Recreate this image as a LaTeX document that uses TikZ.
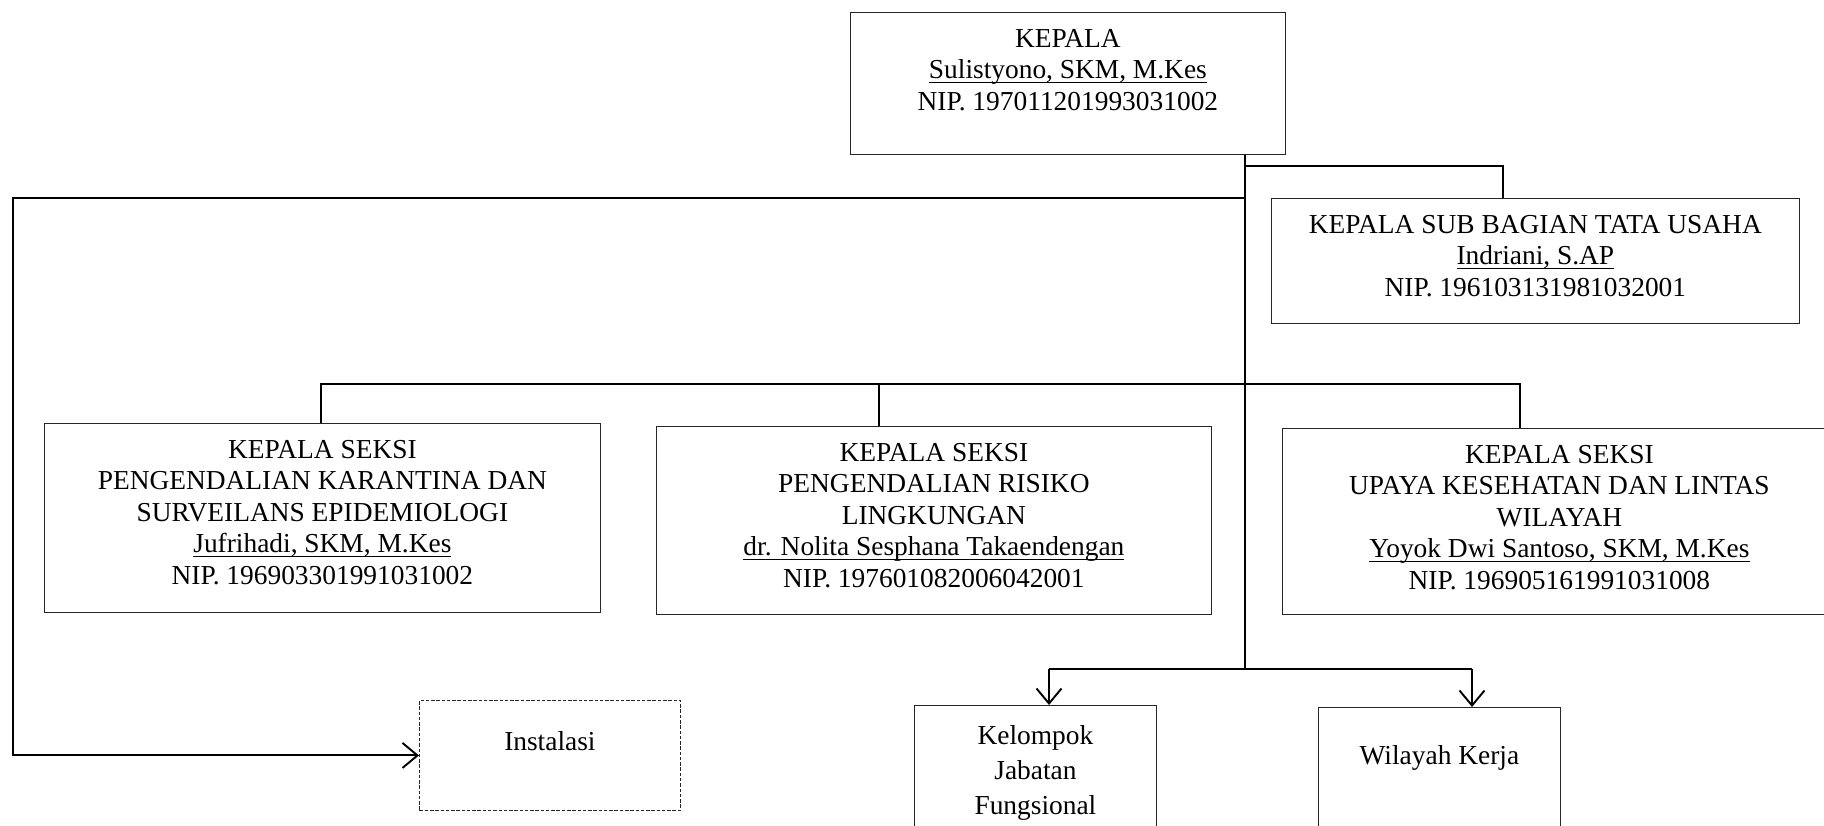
\documentclass[tikz,border=0pt]{standalone}
\usepackage{fontspec}
\setmainfont{Liberation Serif}
\usetikzlibrary{arrows.meta}

\tikzset{
  jabatan/.style={draw=black!85, line width=0.5pt, inner sep=0pt, anchor=north west,
    font=\fontsize{15.6}{17.9}\selectfont},
  garis/.style={line width=1.1pt},
  panah/.style={garis, -{Straight Barb[length=3mm, width=5mm]}}
}
% lebar, tinggi, jarak atas, isi
\newcommand{\isikotak}[4]{\parbox[c][#2][t]{#1}{\vspace*{#3}\centering\strut#4}}
% nama pejabat bergaris bawah
\newcommand{\nama}[1]{\leavevmode\setbox0\hbox{#1}\rlap{\rule[-2.4pt]{\wd0}{0.7pt}}\box0}

\begin{document}
\begin{tikzpicture}[x=0.02cm, y=-0.02cm]
\useasboundingbox (0,0) rectangle (1824,825);
\clip (0,0) rectangle (1824,825);

\begin{scope}[shift={(0,0)}]
        \coordinate (cabang) at (1245,669);
        \coordinate (kiri) at (13,198);
        \coordinate (tu) at (1503,166);
        \coordinate (s1) at (321,384);
        \coordinate (s2) at (879,384);
        \coordinate (s3) at (1520,384);
        \coordinate (kjf) at (1049,669);
        \coordinate (wk) at (1472,669);

        % Kotak jabatan
        \node[jabatan] (kepala) at (850,12)
          {\isikotak{8.7cm}{2.84cm}{0.26cm}{KEPALA\\\nama{Sulistyono, SKM, M.Kes}\\NIP. 197011201993031002}};
        \node[jabatan] (tatausaha) at (1271,198)
          {\isikotak{10.56cm}{2.5cm}{0.26cm}{KEPALA SUB BAGIAN TATA USAHA\\\nama{Indriani, S.AP}\\NIP. 196103131981032001}};
        \node[jabatan] (seksi1) at (44,423)
          {\isikotak{11.12cm}{3.78cm}{0.26cm}{KEPALA SEKSI\\PENGENDALIAN KARANTINA DAN\\SURVEILANS EPIDEMIOLOGI\\\nama{Jufrihadi, SKM, M.Kes}\\NIP. 196903301991031002}};
        \node[jabatan] (seksi2) at (656,426)
          {\isikotak{11.1cm}{3.76cm}{0.26cm}{KEPALA SEKSI\\PENGENDALIAN RISIKO\\LINGKUNGAN\\\nama{dr. Nolita Sesphana Takaendengan}\\NIP. 197601082006042001}};
        \node[jabatan] (seksi3) at (1282,428)
          {\isikotak{11.08cm}{3.72cm}{0.26cm}{KEPALA SEKSI\\UPAYA KESEHATAN DAN LINTAS\\WILAYAH\\\nama{Yoyok Dwi Santoso, SKM, M.Kes}\\NIP. 196905161991031008}};
        \node[jabatan, dash pattern=on 2pt off 1pt] (instalasi) at (419,700)
          {\isikotak{5.22cm}{2.2cm}{0.56cm}{Instalasi}};
        \node[jabatan, font=\fontsize{15.6}{19.9}\selectfont] (kelompok) at (914,705)
          {\isikotak{4.84cm}{3cm}{0.29cm}{Kelompok\\Jabatan\\Fungsional}};
        \node[jabatan] (wilayah) at (1318,707)
          {\isikotak{4.84cm}{3cm}{0.7cm}{Wilayah Kerja}};

        % Garis
        \draw[garis] (kepala.south -| cabang) -- (cabang);
        \draw[garis] (cabang |- tu) -- (tu) -- (tu |- tatausaha.north);
        \draw[panah] (cabang |- kiri) -- (kiri) |- (instalasi.west);
        \draw[garis] (s1 |- seksi1.north) -- (s1) -- (s3) -- (s3 |- seksi3.north);
        \draw[garis] (s2) -- (s2 |- seksi2.north);
        \draw[garis] (kjf) -- (wk);
        \draw[panah] (kjf) -- (kjf |- kelompok.north);
        \draw[panah] (wk) -- (wk |- wilayah.north);
\end{scope}

\end{tikzpicture}
\end{document}
